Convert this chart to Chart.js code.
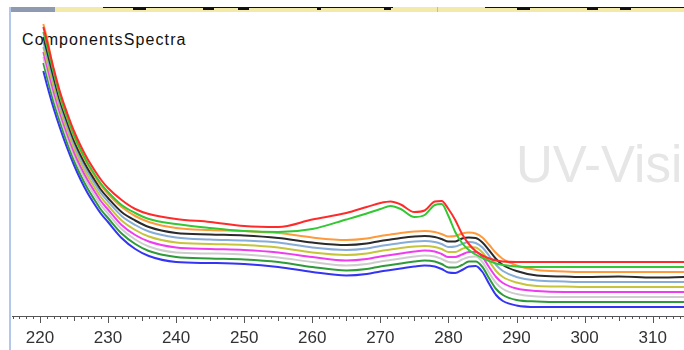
<!DOCTYPE html>
<html lang="en">
<head>
    <meta charset="UTF-8">
    <title>ComponentsSpectra</title>
    <style>
        body {
            margin: 0;
            background: #fff;
        }
        .wrap {
            position: relative;
            width: 684px;
            height: 350px;
            overflow: hidden;
            font-family: "Liberation Sans", Arial, sans-serif;
        }
        /* barra superior de la ventana */
        .band { position: absolute; top: 7px; left: 10px; width: 674px; height: 5px; background: #f3e9a8; }
        .band-left { position: absolute; top: 7px; left: 10px; width: 45px; height: 5px; background: #8e9ab0; }
        .band-line { position: absolute; top: 7px; height: 1px; background: #111; }
        .band-blob { position: absolute; top: 7px; height: 3px; background: #111; }
        .band-sep { position: absolute; top: 7px; left: 437px; width: 1px; height: 5px; background: #bbb; }
        .left-border { position: absolute; top: 7px; left: 9px; width: 2px; height: 343px; background: #b3c7ea; }
        .title {
            position: absolute;
            left: 22px;
            top: 32px;
            font-size: 16px;
            line-height: 16px;
            letter-spacing: 1.1px;
            color: #111;
        }
        .watermark {
            position: absolute;
            left: 516px;
            top: 139px;
            font-size: 51px;
            line-height: 52px;
            color: #e6e6e6;
            white-space: nowrap;
        }
        .chart-box {
            position: absolute;
            left: 12px;
            top: 16px;
            width: 672px;
            height: 334px;
        }
    </style>
</head>
<body>
    <div class="wrap">
        <div class="band"></div>
        <div class="band-left"></div>
        <div class="band-line" style="left:103px;width:290px"></div>
        <div class="band-line" style="left:485px;width:199px"></div>
        <div class="band-blob" style="left:133px;width:13px"></div>
        <div class="band-blob" style="left:203px;width:11px"></div>
        <div class="band-blob" style="left:238px;width:11px"></div>
        <div class="band-blob" style="left:317px;width:4px"></div>
        <div class="band-blob" style="left:384px;width:7px"></div>
        <div class="band-blob" style="left:517px;width:13px"></div>
        <div class="band-blob" style="left:587px;width:11px"></div>
        <div class="band-blob" style="left:620px;width:11px"></div>
        <div class="band-sep"></div>
        <div class="left-border"></div>
        <div class="watermark">UV-Visi</div>
        <div class="title">ComponentsSpectra</div>
        <div class="chart-box">
            <canvas id="spectraChart" width="672" height="334"></canvas>
        </div>
    </div>

    <script src="https://cdn.jsdelivr.net/npm/chart.js"></script>
    <script>
        // Longitudes de onda (nm)
        const wavelengths = [220.5, 221, 222, 223, 224, 225, 226, 227, 228, 229, 230, 232, 234, 236, 240, 245, 250, 255, 260, 265,
            268, 270, 271.5, 273, 275, 276.5, 278, 279, 280, 281, 282, 283, 284, 285, 286, 287, 288, 290, 293, 297, 300, 305, 310, 315];

        // Etiquetas del eje x
        const xTickLabels = [220, 230, 240, 250, 260, 270, 280, 290, 300, 310];

        // Absorbancia de cada componente
        const redSeries = [2.89, 2.76, 2.48, 2.23, 2.03, 1.85, 1.70, 1.57, 1.46, 1.36, 1.28, 1.16, 1.07, 1.02,
            0.97, 0.94, 0.90, 0.89, 0.965, 1.03, 1.09, 1.13, 1.145, 1.115, 1.04, 1.055, 1.145, 1.15, 1.07, 0.96,
            0.82, 0.72, 0.65, 0.605, 0.575, 0.555, 0.545, 0.54, 0.54, 0.54, 0.54, 0.54, 0.54, 0.54];
        const limeSeries = [2.84, 2.71, 2.44, 2.19, 1.99, 1.81, 1.66, 1.53, 1.42, 1.32, 1.24, 1.11, 1.03, 0.97,
            0.92, 0.88, 0.85, 0.84, 0.87, 0.965, 1.025, 1.07, 1.10, 1.07, 0.99, 1.01, 1.11, 1.12, 1.00, 0.84,
            0.73, 0.66, 0.615, 0.58, 0.55, 0.525, 0.51, 0.495, 0.49, 0.49, 0.49, 0.49, 0.49, 0.49];
        const orangeSeries = [2.92, 2.79, 2.46, 2.18, 1.98, 1.795, 1.645, 1.515, 1.405, 1.30, 1.22, 1.09, 1.00, 0.94,
            0.88, 0.86, 0.85, 0.83, 0.785, 0.76, 0.775, 0.80, 0.815, 0.83, 0.845, 0.85, 0.84, 0.82, 0.795, 0.80,
            0.825, 0.835, 0.825, 0.785, 0.71, 0.63, 0.57, 0.505, 0.46, 0.445, 0.44, 0.44, 0.44, 0.44];
        const blackSeries = [2.79, 2.66, 2.39, 2.14, 1.94, 1.755, 1.605, 1.475, 1.365, 1.26, 1.18, 1.04, 0.955, 0.89,
            0.83, 0.815, 0.805, 0.78, 0.735, 0.71, 0.725, 0.75, 0.765, 0.78, 0.795, 0.80, 0.79, 0.77, 0.745, 0.745,
            0.775, 0.785, 0.78, 0.735, 0.655, 0.57, 0.51, 0.45, 0.405, 0.395, 0.39, 0.395, 0.385, 0.39];
        const lightBlueSeries = [2.74, 2.61, 2.35, 2.10, 1.90, 1.72, 1.57, 1.44, 1.33, 1.225, 1.145, 1.00, 0.91, 0.845,
            0.785, 0.765, 0.755, 0.735, 0.685, 0.66, 0.675, 0.70, 0.715, 0.73, 0.745, 0.75, 0.74, 0.72, 0.69, 0.695,
            0.72, 0.74, 0.73, 0.685, 0.60, 0.51, 0.45, 0.39, 0.355, 0.345, 0.34, 0.34, 0.34, 0.34];
        const yellowSeries = [2.69, 2.56, 2.30, 2.06, 1.86, 1.68, 1.53, 1.40, 1.29, 1.185, 1.105, 0.955, 0.86, 0.795,
            0.735, 0.72, 0.71, 0.685, 0.635, 0.61, 0.625, 0.65, 0.665, 0.68, 0.695, 0.70, 0.69, 0.67, 0.64, 0.64,
            0.67, 0.69, 0.685, 0.635, 0.545, 0.45, 0.39, 0.335, 0.30, 0.295, 0.29, 0.29, 0.29, 0.29];
        const magentaSeries = [2.64, 2.51, 2.25, 2.02, 1.82, 1.64, 1.49, 1.36, 1.25, 1.145, 1.065, 0.91, 0.81, 0.745,
            0.685, 0.67, 0.66, 0.635, 0.59, 0.555, 0.57, 0.595, 0.61, 0.625, 0.645, 0.655, 0.645, 0.62, 0.59, 0.59,
            0.615, 0.64, 0.64, 0.59, 0.485, 0.39, 0.33, 0.275, 0.25, 0.24, 0.24, 0.24, 0.24, 0.24];
        const graySeries = [2.59, 2.46, 2.20, 1.98, 1.78, 1.60, 1.45, 1.32, 1.21, 1.105, 1.025, 0.87, 0.765, 0.695,
            0.635, 0.625, 0.615, 0.585, 0.54, 0.505, 0.52, 0.545, 0.56, 0.575, 0.595, 0.605, 0.595, 0.57, 0.54, 0.535,
            0.565, 0.59, 0.595, 0.54, 0.43, 0.33, 0.27, 0.22, 0.195, 0.19, 0.19, 0.19, 0.19, 0.19];
        const darkGreenSeries = [2.53, 2.40, 2.14, 1.93, 1.73, 1.555, 1.405, 1.275, 1.165, 1.06, 0.98, 0.825, 0.72, 0.65,
            0.59, 0.575, 0.565, 0.54, 0.49, 0.455, 0.47, 0.495, 0.51, 0.525, 0.545, 0.555, 0.545, 0.52, 0.485, 0.485,
            0.51, 0.545, 0.545, 0.49, 0.375, 0.27, 0.21, 0.16, 0.145, 0.14, 0.14, 0.14, 0.14, 0.14];
        const blueSeries = [2.45, 2.32, 2.08, 1.87, 1.68, 1.51, 1.36, 1.23, 1.12, 1.02, 0.94, 0.78, 0.67, 0.60,
            0.54, 0.53, 0.52, 0.49, 0.44, 0.405, 0.42, 0.445, 0.46, 0.475, 0.495, 0.505, 0.495, 0.47, 0.435, 0.43,
            0.46, 0.495, 0.50, 0.44, 0.32, 0.21, 0.15, 0.105, 0.09, 0.09, 0.09, 0.09, 0.09, 0.09];

        const seriesList = [redSeries, limeSeries, orangeSeries, blackSeries, lightBlueSeries,
            yellowSeries, magentaSeries, graySeries, darkGreenSeries, blueSeries];
        const seriesColors = ['#ff2b2b', '#33c833', '#ff9a3c', '#2a2a2a', '#86acd8',
            '#c6c43a', '#f03cf0', '#cdcdcd', '#2f9a3a', '#3434f4'];

        // Marcas menores del eje x (cada 1 nm, media cada 5, mayor cada 10)
        const minorTicks = {
            id: 'minorTicks',
            afterDraw(chart) {
                const scale = chart.scales.x;
                const ctx = chart.ctx;
                ctx.save();
                ctx.strokeStyle = '#555';
                ctx.lineWidth = 1;
                for (let v = Math.ceil(scale.min); v <= scale.max; v++) {
                    const px = Math.round(scale.getPixelForValue(v)) + 0.5;
                    const len = v % 10 === 0 ? 7 : (v % 5 === 0 ? 5 : 3);
                    ctx.beginPath();
                    ctx.moveTo(px, scale.top);
                    ctx.lineTo(px, scale.top + len);
                    ctx.stroke();
                }
                ctx.restore();
            }
        };

        const ctx = document.getElementById('spectraChart').getContext('2d');
        const spectraChart = new Chart(ctx, {
            type: 'line',
            data: {
                datasets: seriesList.map((s, i) => ({
                    label: 'Componente ' + (i + 1),
                    data: wavelengths.map((w, j) => ({ x: w, y: s[j] })),
                    borderColor: seriesColors[i],
                    borderWidth: 2,
                    pointRadius: 0,
                    fill: false,
                    cubicInterpolationMode: 'monotone'
                }))
            },
            options: {
                responsive: false,
                animation: false,
                events: [],
                layout: { padding: 0 },
                plugins: {
                    legend: { display: false },
                    tooltip: { enabled: false }
                },
                scales: {
                    x: {
                        type: 'linear',
                        min: 215.9,
                        max: 314.6,
                        afterBuildTicks: (scale) => {
                            scale.ticks = xTickLabels.map(v => ({ value: v }));
                        },
                        afterFit: (scale) => {
                            scale.height = 34;
                        },
                        grid: { display: false, drawTicks: false },
                        border: { display: true, color: '#555', width: 1 },
                        ticks: {
                            autoSkip: false,
                            maxRotation: 0,
                            padding: 12,
                            color: '#333',
                            font: { family: 'Liberation Sans', size: 17 }
                        }
                    },
                    y: {
                        display: false,
                        min: 0,
                        max: 3.0
                    }
                }
            },
            plugins: [minorTicks]
        });
    </script>
</body>
</html>
